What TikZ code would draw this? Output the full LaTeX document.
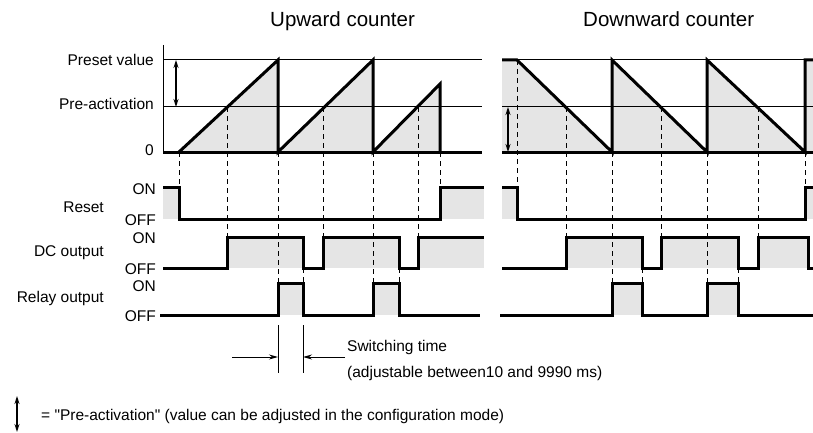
\documentclass[tikz,border=0pt]{standalone}
\usepackage{fontspec}
\setmainfont{Liberation Sans}[Ligatures=TeXOff]
\usetikzlibrary{arrows.meta}

\begin{document}
\begin{tikzpicture}[x=1pt,y=-1pt,
  sig/.style={line width=3pt,line join=miter},
  rule/.style={line width=1pt},
  guide/.style={line width=1pt,dash pattern=on 5pt off 4pt},
  shade/.style={fill=black!10},
  lbl/.style={font=\fontsize{15.5}{18}\selectfont,inner sep=0pt},
  ttl/.style={font=\fontsize{20.5}{24}\selectfont,inner sep=0pt,anchor=base west},
  dim/.style={line width=1pt,-{Stealth[length=9pt,width=5pt]}},
  both/.style={line width=1.2pt,{Stealth[length=8pt,width=5pt]}-{Stealth[length=8pt,width=5pt]}}]
  \useasboundingbox (0,0) rectangle (813,433);
  % the shaded areas under the counts and the ON states
  \fill[shade] (179,152) -- (278,60) -- (278,152) -- cycle;
  \fill[shade] (278,152) -- (373,60) -- (373,152) -- cycle;
  \fill[shade] (373,152) -- (440,84) -- (440,152) -- cycle;
  \fill[shade] (502,152) -- (502,60) -- (517,60) -- (612,152) -- cycle;
  \foreach \a/\b in {612/707,707/805} \fill[shade] (\a,152) -- (\a,60) -- (\b,152) -- cycle;
  \fill[shade] (805,152) -- (805,60) -- (813,60) -- (813,152) -- cycle;
  \foreach \a/\b in {163/179,440/484,502/517,805/813} \fill[shade] (\a,187) rectangle (\b,219);
  \foreach \a/\b in {227/303,323/399,418/484,566/642,661/738,758/808} \fill[shade] (\a,237) rectangle (\b,268);
  \foreach \a/\b in {278/303,373/399,612/642,707/738} \fill[shade] (\a,283) rectangle (\b,315);
  % the levels
  \draw[rule] (163,45) -- (163,152);
  \foreach \y in {60,107} {
    \draw[rule] (163,\y) -- (482,\y);
    \draw[rule] (502,\y) -- (813,\y);
  }
  % the guide lines
  \foreach \x/\a/\b in {179/152/187,227/107/237,278/152/283,303/268/283,323/107/237,
      373/152/283,399/268/283,418/107/237,440/152/187,517/60/187,566/107/237,
      612/152/283,642/268/283,661/107/237,707/152/283,738/268/283,758/107/237,805/152/187}
    \draw[guide] (\x,\a) -- (\x,\b);
  % the counts
  \draw[sig] (163,152) -- (482,152);
  \draw[sig] (502,152) -- (813,152);
  \draw[sig] (179,152) -- (278,60) -- (278,152) -- (373,60) -- (373,152) -- (440,84) -- (440,152);
  \draw[sig] (502,60) -- (517,60) -- (612,152) -- (612,60) -- (707,152) -- (707,60) -- (805,152) -- (805,60) -- (813,60);
  % the signals
  \draw[sig] (163,187) -- (179,187) -- (179,219) -- (440,219) -- (440,187) -- (484,187);
  \draw[sig] (502,187) -- (517,187) -- (517,219) -- (805,219) -- (805,187) -- (813,187);
  \draw[sig] (163,268) -- (227,268) -- (227,237) -- (303,237) -- (303,268) -- (323,268) -- (323,237)
    -- (399,237) -- (399,268) -- (418,268) -- (418,237) -- (484,237);
  \draw[sig] (502,268) -- (566,268) -- (566,237) -- (642,237) -- (642,268) -- (661,268) -- (661,237)
    -- (738,237) -- (738,268) -- (758,268) -- (758,237) -- (808,237) -- (808,268) -- (813,268);
  \draw[sig] (160,315) -- (278,315) -- (278,283) -- (303,283) -- (303,315) -- (373,315) -- (373,283)
    -- (399,283) -- (399,315) -- (480,315);
  \draw[sig] (500,315) -- (612,315) -- (612,283) -- (642,283) -- (642,315) -- (707,315) -- (707,283)
    -- (738,283) -- (738,315) -- (813,315);
  % pre-activation arrows
  \coordinate (preL1) at (176,60);
  \coordinate (preL2) at (176,107);
  \coordinate (preR1) at (508,107);
  \coordinate (preR2) at (508,152);
  \coordinate (key1) at (17,396);
  \coordinate (key2) at (17,432);
  \draw[both] (preL1) -- (preL2);
  \draw[both] (preR1) -- (preR2);
  \draw[both] (key1) -- (key2);
  % switching time
  \coordinate (swA) at (278,325);
  \coordinate (swB) at (303,325);
  \coordinate (swIn) at (232,357);
  \coordinate (swOut) at (345,357);
  \draw[rule] (swA) -- ++(0,48);
  \draw[rule] (swB) -- ++(0,48);
  \draw[dim] (swIn) -- (swA |- swIn);
  \draw[dim] (swOut) -- (swB |- swOut);
  % the texts
  \node[ttl] (up) at (270,27) {Upward counter};
  \node[ttl] (down) at (583,27) {Downward counter};
  \node[lbl,anchor=east] (preset) at (154,60) {Preset value};
  \node[lbl,anchor=east] (preact) at (154,104) {Pre-activation};
  \node[lbl,anchor=east] (zero) at (154,150) {0};
  \node[lbl,anchor=east] (rston) at (156,189) {ON};
  \node[lbl,anchor=east] (rstoff) at (156,220) {OFF};
  \node[lbl,anchor=east] (dcon) at (156,238) {ON};
  \node[lbl,anchor=east] (dcoff) at (156,269) {OFF};
  \node[lbl,anchor=east] (relon) at (156,286) {ON};
  \node[lbl,anchor=east] (reloff) at (156,316) {OFF};
  \node[lbl,anchor=east] (rst) at (104,207) {Reset};
  \node[lbl,anchor=east] (dc) at (104,253) {DC output};
  \node[lbl,anchor=east] (rel) at (104,298) {Relay output};
  \node[lbl,anchor=west] (swtxt) at (347,347) {Switching time};
  \node[lbl,anchor=west] (swadj) at (347,373) {(adjustable between10 and 9990 ms)};
  \node[lbl,anchor=west] (key) at (41,416) {= "Pre-activation" (value can be adjusted in the configuration mode)};
\end{tikzpicture}
\end{document}
